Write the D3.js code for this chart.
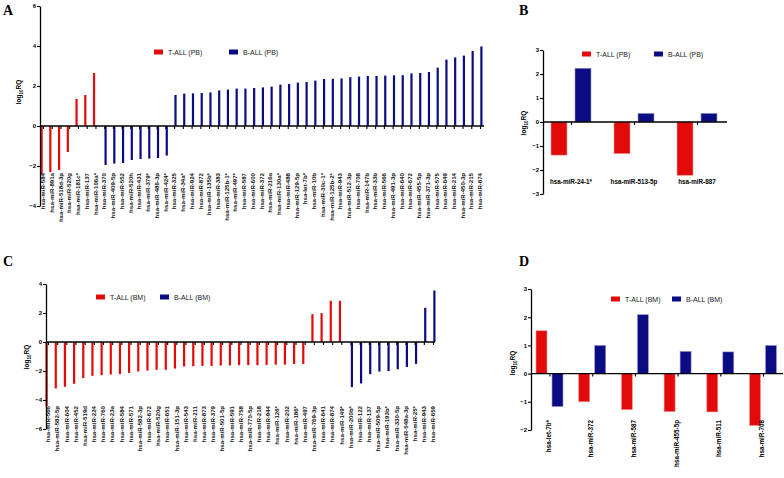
<!DOCTYPE html>
<html><head><meta charset="utf-8">
<script src="https://cdn.jsdelivr.net/npm/d3@7"></script>
<style>body{margin:0;background:#fff}svg{display:block}</style>
</head><body>
<script>
const RED = "#e30a0a", BLUE = "#0b0b82";

// Panel A (PB)
const aTCats = ["hsa-miR-584","hsa-miR-891a","hsa-miR-518d-3p","hsa-miR-520g","hsa-miR-181c*","hsa-miR-137","hsa-miR-106a*"];
const aTVals = [-2.4,-2.3,-2.2,-1.3,1.35,1.55,2.65];
const aBCats = ["hsa-miR-370","hsa-miR-409-5p","hsa-miR-552","hsa-miR-520h","hsa-miR-431","hsa-miR-379*","hsa-miR-486-3p","hsa-miR-424*","hsa-miR-325","hsa-miR-34a*","hsa-miR-924","hsa-miR-872","hsa-miR-135b*","hsa-miR-383","hsa-miR-125b-1*","hsa-miR-497*","hsa-miR-587","hsa-miR-600","hsa-miR-372","hsa-miR-216a","hsa-miR-130a*","hsa-miR-488","hsa-miR-129-5p","hsa-let-7b*","hsa-miR-10b","hsa-miR-30c-1*","hsa-miR-125b-2*","hsa-miR-943","hsa-miR-512-3p","hsa-miR-708","hsa-miR-147b","hsa-miR-33b","hsa-miR-566","hsa-miR-491-3p","hsa-miR-640","hsa-miR-672","hsa-miR-455-5p","hsa-miR-371-3p","hsa-miR-575","hsa-miR-649","hsa-miR-214","hsa-miR-450-3p","hsa-miR-215","hsa-miR-874"];
const aBVals = [-1.95,-1.88,-1.85,-1.7,-1.65,-1.63,-1.6,-1.48,1.55,1.62,1.63,1.65,1.68,1.78,1.82,1.87,1.87,1.9,1.93,1.97,2.07,2.1,2.17,2.2,2.27,2.35,2.36,2.38,2.44,2.47,2.5,2.5,2.52,2.53,2.54,2.63,2.65,2.7,2.92,3.32,3.43,3.52,3.75,3.98];
const aTicks = [-4,-2,0,2,4,6];

// Panel B (PB)
const bCats = ["hsa-miR-24-1*","hsa-miR-513-5p","hsa-miR-887"];
const bTVals = [-1.38,-1.32,-2.22];
const bBVals = [2.24,0.36,0.36];
const bTicks = [-3,-2,-1,0,1,2,3];

// Panel C (BM)
const cTCats = ["hsa-miR-566","hsa-miR-582-5p","hsa-miR-604","hsa-miR-452","hsa-miR-519d","hsa-miR-224","hsa-miR-760","hsa-miR-23a","hsa-miR-584","hsa-miR-571","hsa-miR-582-3p","hsa-miR-672","hsa-miR-520g","hsa-miR-651","hsa-miR-151-3p","hsa-miR-543","hsa-miR-211","hsa-miR-873","hsa-miR-379","hsa-miR-501-5p","hsa-miR-591","hsa-miR-758","hsa-miR-770-5p","hsa-miR-218","hsa-miR-944","hsa-miR-126*","hsa-miR-202","hsa-miR-186*","hsa-miR-497","hsa-miR-769-3p","hsa-miR-641","hsa-miR-874","hsa-miR-149*"];
const cTVals = [-4.42,-3.2,-3.09,-2.88,-2.49,-2.33,-2.29,-2.24,-2.22,-2.13,-2.04,-1.97,-1.92,-1.92,-1.83,-1.69,-1.67,-1.65,-1.65,-1.62,-1.62,-1.6,-1.6,-1.6,-1.58,-1.56,-1.56,-1.51,-1.51,1.92,1.99,2.84,2.84];
const cBCats = ["hsa-miR-200b*","hsa-miR-122","hsa-miR-137","hsa-miR-509-5p","hsa-miR-193b*","hsa-miR-330-5p","hsa-miR-548a-3p","hsa-miR-25*","hsa-miR-943","hsa-miR-659"];
const cBVals = [-3.11,-2.86,-2.22,-2.04,-2.01,-1.88,-1.72,-1.51,2.36,3.55];
const cTicks = [-6,-4,-2,0,2,4];

// Panel D (BM)
const dCats = ["hsa-let-7b*","hsa-miR-372","hsa-miR-587","hsa-miR-455-5p","hsa-miR-511","hsa-miR-708"];
const dTVals = [1.52,-1.0,-1.28,-1.35,-1.36,-1.84];
const dBVals = [-1.17,1.0,2.09,0.79,0.77,1.0];
const dTicks = [-2,-1,0,1,2,3];

const svg = d3.select("body").append("svg").attr("width",784).attr("height",478)
  .style("font-family","'Liberation Sans', Arial, sans-serif");

function letter(x,y,t){
  svg.append("text").attr("x",x).attr("y",y).text(t)
    .style("font-family","'Liberation Serif','Times New Roman',serif")
    .style("font-weight","bold").style("font-size","14px");
}
function ylabel(x,y){
  const t = svg.append("text").attr("transform",`translate(${x},${y}) rotate(-90)`)
    .attr("text-anchor","middle").style("font-size","6.5px").style("font-weight","bold");
  t.append("tspan").text("log");
  t.append("tspan").text("10").style("font-size","4.5px").attr("dy","1.5");
  t.append("tspan").text("RQ").attr("dy","-1.5");
}
function legend(x1,x2,y,l1,l2){
  [[x1,RED,l1],[x2,BLUE,l2]].forEach(([x,c,l])=>{
    svg.append("rect").attr("x",x).attr("y",y-2.5).attr("width",9).attr("height",5).attr("fill",c);
    svg.append("text").attr("x",x+14).attr("y",y+2.5).text(l).style("font-size","7px").attr("fill","#222");
  });
}
function yAxis(y, ax, ticks){
  const g = svg.append("g").attr("transform",`translate(${ax},0)`)
    .call(d3.axisLeft(y).tickValues(ticks).tickSize(3).tickSizeOuter(0).tickFormat(d3.format("d")));
  g.select(".domain").attr("stroke-width",1.3);
  g.selectAll(".tick line").attr("stroke-width",1.1);
  g.selectAll(".tick text").style("font-size","6px").style("font-weight","bold").attr("x",-4);
  return g;
}
function xTicks(x, y0, cats, len){
  const g = svg.append("g").attr("transform",`translate(0,${y0})`)
    .call(d3.axisBottom(x).tickValues(cats).tickSize(len).tickSizeOuter(0).tickFormat(""));
  g.select(".domain").remove();
  g.selectAll(".tick line").attr("stroke-width",1.1);
}

// narrow-bar panels
function narrow(tc, tv, bc, bv, xr, ydom, yr, ax, axEnd, labTop, ticks){
  const cats = tc.concat(bc);
  const x = d3.scalePoint().domain(cats).range(xr);
  const y = d3.scaleLinear().domain(ydom).range(yr);
  const y0 = y(0);
  const data = tc.map((c,i)=>({c, v:tv[i], col:RED, off:-2.5}))
    .concat(bc.map((c,i)=>({c, v:bv[i], col:BLUE, off:0.3})));
  svg.append("g").selectAll("rect").data(data).join("rect")
    .attr("x", d=>x(d.c)+d.off).attr("width",2.2)
    .attr("y", d=>Math.min(y(d.v),y0)).attr("height", d=>Math.abs(y(d.v)-y0))
    .attr("fill", d=>d.col);
  yAxis(y, ax, ticks);
  svg.append("line").attr("x1",ax).attr("x2",axEnd).attr("y1",y0).attr("y2",y0)
    .attr("stroke","#000").attr("stroke-width",1.3);
  xTicks(x, y0, cats, 3);
  svg.append("g").selectAll("text").data(cats).join("text")
    .attr("transform", d=>`translate(${x(d)+2.2},${labTop}) rotate(-90)`)
    .attr("text-anchor","end").text(d=>d)
    .style("font-size","6.1px").style("font-weight","bold").attr("fill","#111");
}

// grouped panels
function grouped(cats, tv, bv, xr, ydom, yr, ax, axEnd, bw, gap, horiz, labY, ticks){
  const x = d3.scalePoint().domain(cats).range(xr);
  const y = d3.scaleLinear().domain(ydom).range(yr);
  const y0 = y(0);
  const data = cats.map((c,i)=>({c, v:tv[i], col:RED, off:-gap-bw}))
    .concat(cats.map((c,i)=>({c, v:bv[i], col:BLUE, off:gap})));
  svg.append("g").selectAll("rect").data(data).join("rect")
    .attr("x", d=>x(d.c)+d.off).attr("width",bw)
    .attr("y", d=>Math.min(y(d.v),y0)).attr("height", d=>Math.abs(y(d.v)-y0))
    .attr("fill", d=>d.col)
    .attr("stroke", d=>d.col===RED?"#f29a9a":"#9a9ad6").attr("stroke-width",0.6);
  yAxis(y, ax, ticks);
  svg.append("line").attr("x1",ax).attr("x2",axEnd).attr("y1",y0).attr("y2",y0)
    .attr("stroke","#000").attr("stroke-width",1.3);
  xTicks(x, y0, cats, 3);
  if (horiz){
    svg.append("g").selectAll("text").data(cats).join("text")
      .attr("x", d=>x(d)).attr("y", labY).attr("text-anchor","middle").text(d=>d)
      .style("font-size","6.3px").style("font-weight","bold");
  } else {
    svg.append("g").selectAll("text").data(cats).join("text")
      .attr("transform", d=>`translate(${x(d)+1},${labY}) rotate(-90)`)
      .attr("text-anchor","end").text(d=>d)
      .style("font-size","6.3px").style("font-weight","bold");
  }
}

// A
letter(3,15,"A");
narrow(aTCats,aTVals,aBCats,aBVals,[43,480],[-4,6],[206,6],40,484,173,aTicks);
ylabel(21,92);
legend(154,229,52,"T-ALL (PB)","B-ALL (PB)");

// B
letter(519,15,"B");
grouped(bCats,bTVals,bBVals,[571,697],[-3,3],[194,50],543,727,16,4,true,184,bTicks);
ylabel(526,123);
legend(582,654,54,"T-ALL (PB)","B-ALL (PB)");

// C
letter(3,266,"C");
narrow(cTCats,cTVals,cBCats,cBVals,[48,433],[-6,4],[429,284],46,435,406,cTicks);
ylabel(29,357);
legend(96,160,297,"T-ALL (BM)","B-ALL (BM)");

// D
letter(519,266,"D");
grouped(dCats,dTVals,dBVals,[549.5,763],[-2,3],[430,289],531,783,11,2.5,false,420,dTicks);
ylabel(515,363);
legend(611,672,299,"T-ALL (BM)","B-ALL (BM)");
</script>
</body></html>
